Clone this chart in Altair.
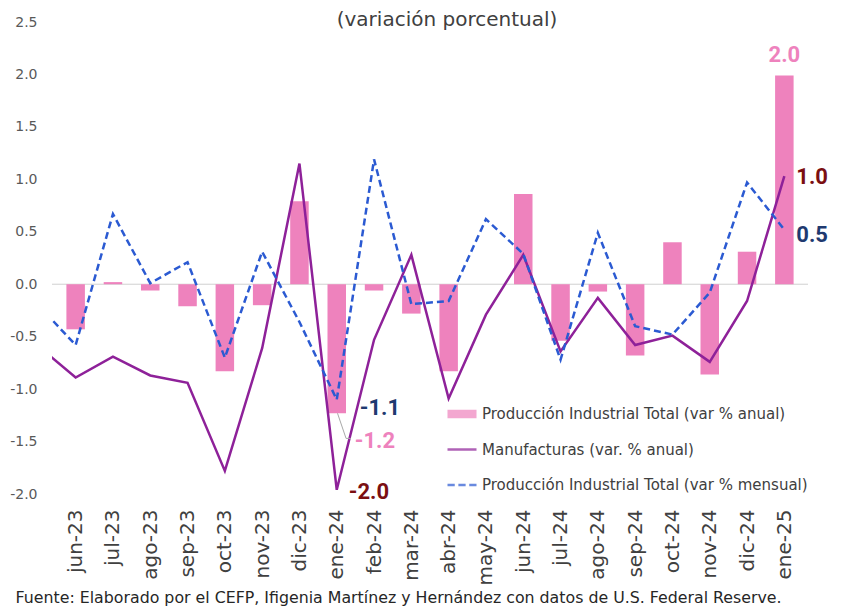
import json
import altair as alt
import pandas as pd

# ---------------- data ----------------
meses = ["jun-23", "jul-23", "ago-23", "sep-23", "oct-23", "nov-23", "dic-23",
         "ene-24", "feb-24", "mar-24", "abr-24", "may-24", "jun-24", "jul-24",
         "ago-24", "sep-24", "oct-24", "nov-24", "dic-24", "ene-25"]
pit_anual = [-0.43, 0.02, -0.06, -0.21, -0.83, -0.20, 0.79, -1.23, -0.06, -0.28,
             -0.83, 0.00, 0.86, -0.54, -0.07, -0.68, 0.40, -0.86, 0.31, 1.99]
manuf_anual = [-0.89, -0.69, -0.87, -0.94, -1.78, -0.61, 1.15, -1.96, -0.53, 0.28,
               -1.09, -0.29, 0.28, -0.64, -0.13, -0.58, -0.49, -0.74, -0.16, 1.03]
pit_mensual = [-0.58, 0.67, 0.01, 0.21, -0.70, 0.31, -0.36, -1.10, 1.19, -0.19,
               -0.16, 0.62, 0.29, -0.72, 0.49, -0.40, -0.48, -0.08, 0.97, 0.52]
# may-23 (previous month): only the segment entering the plot is visible
manuf_previo = -0.59
mensual_previo = -0.20

S1 = "Producción Industrial Total (var % anual)"
S2 = "Manufacturas (var. % anual)"
S3 = "Producción Industrial Total (var % mensual)"
series = [S1, S2, S3]
y_ticks = [-2.0, -1.5, -1.0, -0.5, 0.0, 0.5, 1.0, 1.5, 2.0, 2.5]

titulo = "(variación porcentual)"
fuente = ("Fuente: Elaborado por el CEFP, Ifigenia Martínez y Hernández con datos "
          "de U.S. Federal Reserve.")

# ---------------- styles ----------------
PINK = "#EE82BD"
PURPLE = "#8E2199"
BLUE = "#2B5AD2"
NAVY = "#1F3A70"
DARKRED = "#7B0F12"
FONT = "DejaVu Sans"

bars_df = pd.DataFrame({"i": list(range(len(meses))), "mes": meses, "v": pit_anual})
lines_df = pd.DataFrame({
    "i": [-1] + list(range(len(meses))),
    "manuf": [manuf_previo] + manuf_anual,
    "mensual": [mensual_previo] + pit_mensual,
})

x_scale = alt.Scale(domain=[-0.5, len(meses) - 0.5], nice=False, zero=False)
y_scale = alt.Scale(domain=[-2.0, 2.5], nice=False, zero=False)

x_axis = alt.Axis(
    values=list(range(len(meses))),
    labelExpr=json.dumps(meses) + "[datum.value]",
    labelAngle=270, labelFont=FONT, labelFontSize=20, labelColor="#404040",
    labelPadding=15, labelOverlap=False, labelFlush=False,
    ticks=False, domain=False, grid=False,
    title=fuente, titleX=-37, titleY=108, titleAlign="left", titleAnchor="start",
    titleBaseline="alphabetic", titleFont=FONT, titleFontSize=15.8,
    titleFontWeight="normal", titleColor="#262626",
)
y_axis = alt.Axis(
    values=y_ticks,
    labelExpr="(datum.value < 0 ? '-' : '') + format(abs(datum.value), '.1f')",
    labelFont=FONT, labelFontSize=14, labelColor="#595959", labelPadding=15,
    ticks=False, domain=False, grid=False, title=None,
)


def X(field):
    return alt.X(field, scale=x_scale, axis=x_axis)


def Y(field):
    return alt.Y(field, scale=y_scale, axis=y_axis)


zero = alt.Chart(pd.DataFrame({"z": [0.0]})).mark_rule(
    color="#D0D0D0", strokeWidth=1
).encode(y=Y("z:Q"))

bars = alt.Chart(bars_df).mark_bar(color=PINK, width=18.5).encode(
    x=X("i:Q"), y=Y("v:Q"), y2=alt.datum(0)
)

manuf = alt.Chart(lines_df).mark_line(color=PURPLE, strokeWidth=2.5, clip=True).encode(
    x=X("i:Q"), y=Y("manuf:Q")
)
mensual = alt.Chart(lines_df).mark_line(
    color=BLUE, strokeWidth=2.5, strokeDash=[7, 4], clip=True
).encode(x=X("i:Q"), y=Y("mensual:Q"))

# legend (drawn by Vega-Lite from a merged colour + shape scale)
rect_path = "M-1,-0.2L1,-0.2M-1,-0.067L1,-0.067M-1,0.067L1,0.067M-1,0.2L1,0.2"
line_path = "M-1,0L1,0"
dash_path = "M-1,0L-0.5,0M-0.25,0L0.25,0M0.5,0L1,0"
legend = alt.Legend(
    title=None, orient="none", legendX=394, legendY=376, direction="vertical",
    symbolSize=841, symbolStrokeWidth=2.5, labelFont=FONT, labelFontSize=15,
    labelColor="#404040", rowPadding=11.5, padding=0, labelOffset=4,
    labelLimit=500,
)
leg = alt.Chart(pd.DataFrame({"serie": series})).mark_point(filled=False).transform_filter(
    "false"
).encode(
    color=alt.Color("serie:N", scale=alt.Scale(domain=series, range=[PINK, PURPLE, BLUE]),
                    legend=legend, sort=series),
    shape=alt.Shape("serie:N", scale=alt.Scale(domain=series,
                                              range=[rect_path, line_path, dash_path]),
                    legend=legend, sort=series),
)


def etiqueta(i, v, color, dx, dy, align="left"):
    df = pd.DataFrame({"i": [i], "v": [v], "t": [f"{v:.1f}"]})
    return alt.Chart(df).mark_text(
        font="Roboto", fontSize=22, fontWeight="bold", color=color,
        align=align, baseline="middle", dx=dx, dy=dy,
    ).encode(x=X("i:Q"), y=Y("v:Q"), text="t:N")


last = len(meses) - 1
ene24 = meses.index("ene-24")
labels = [
    etiqueta(last, pit_anual[last], PINK, 0, -20, "center"),
    etiqueta(last, manuf_anual[last], DARKRED, 12, 1),
    etiqueta(last, pit_mensual[last], NAVY, 12, 5),
    etiqueta(ene24, pit_mensual[ene24], NAVY, 23, 8),
    etiqueta(ene24, pit_anual[ene24], PINK, 18, 28),
    etiqueta(ene24, manuf_anual[ene24], DARKRED, 12, 2),
]

vb = pit_anual[ene24]
leader_df = pd.DataFrame({"i": [ene24 + 0.02, ene24 + 0.25, ene24 + 0.38],
                          "v": [vb, vb - 0.24, vb - 0.24]})
leader = alt.Chart(leader_df).mark_line(color="#A8A8A8", strokeWidth=1).encode(
    x=X("i:Q"), y=Y("v:Q")
)

# chart subtitle, placed just above the plot area
title_mark = alt.Chart(pd.DataFrame({"t": [titulo]})).mark_text(
    font=FONT, fontSize=20, color="#404040", align="center", baseline="alphabetic"
).encode(x=alt.value(395), y=alt.value(4), text="t:N")

chart = alt.layer(zero, bars, manuf, mensual, leader, leg, *labels, title_mark).properties(
    width=756, height=472,
    padding={"left": 44, "top": 14, "right": 25, "bottom": 112},
    autosize=alt.AutoSizeParams(type="none"),
    background="white",
).configure_view(stroke="transparent")

chart.save("out.html", embed_options={"renderer": "svg", "actions": False})
